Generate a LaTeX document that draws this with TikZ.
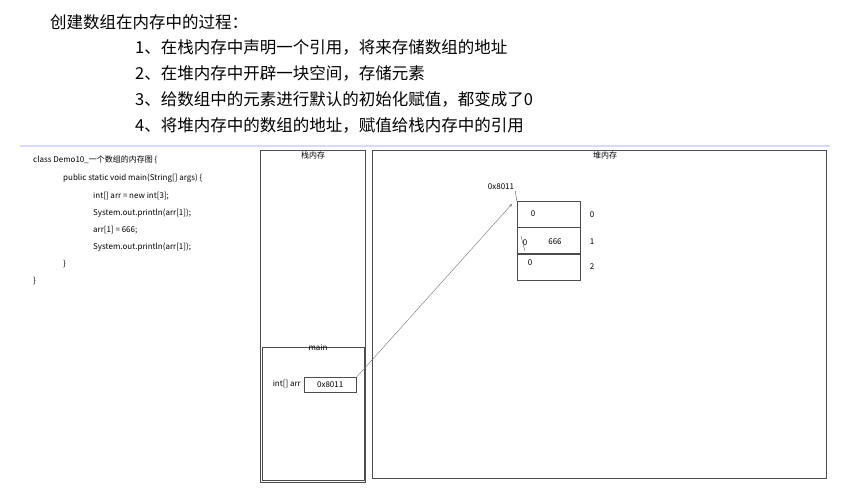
\documentclass[tikz,border=0pt]{standalone}
\usepackage{fontspec}
\setmainfont{Noto Sans CJK SC}
\usetikzlibrary{positioning}
\tikzset{
  mem/.style={draw=black!70, line width=0.6pt},
  cell/.style={draw=black!70, minimum width=63pt, minimum height=26pt, inner sep=0pt},
  tiny/.style={font=\fontsize{8}{9}\selectfont, inner sep=1pt},
  stepline/.style={font=\fontsize{16.5}{19}\selectfont, anchor=west, inner sep=0pt}
}
\begin{document}
\begin{tikzpicture}[x=1pt, y=-1pt]
\useasboundingbox (0,0) rectangle (863,503);
% title and steps
\node (title) [stepline] at (50,22) {创建数组在内存中的过程：};
\foreach \i/\t [count=\k] in {1/{在栈内存中声明一个引用，将来存储数组的地址},
                               2/{在堆内存中开辟一块空间，存储元素},
                               3/{给数组中的元素进行默认的初始化赋值，都变成了0},
                               4/{将堆内存中的数组的地址，赋值给栈内存中的引用}}
  \node (s\i) [stepline] at (135,21+26*\k) {\i、\t};
\draw[color=blue!15, line width=1.5pt] (20,146) -- (830,146);
% code
\node (c1) [tiny, anchor=west] at (32,160) {class Demo10\_一个数组的内存图 \{};
\node (c2) [tiny, anchor=west] at (62,178) {public static void main(String[] args) \{};
\node (c3) [tiny, anchor=west] at (92,196) {int[] arr = new int[3];};
\node (c4) [tiny, anchor=west] at (92,213) {System.out.println(arr[1]);};
\node (c5) [tiny, anchor=west] at (92,230) {arr[1] = 666;};
\node (c6) [tiny, anchor=west] at (92,247) {System.out.println(arr[1]);};
\node (c7) [tiny, anchor=west] at (62,264) {\}};
\node (c8) [tiny, anchor=west] at (32,281) {\}};
% stack
\draw[mem] (260,150) rectangle (365,482);
\node (stack) [tiny] at (313,155) {栈内存};
\draw[mem] (262,347) rectangle (364,480);
\node (main) [tiny] at (318,347) {main};
\node (arr) [tiny, anchor=east] at (302,384) {int[] arr};
\node (ref) [draw=black!70, tiny, minimum width=52pt, minimum height=15pt, anchor=west] at (304,385) {0x8011};
% heap
\draw[mem] (372,150) rectangle (826,478);
\node (heap) [tiny] at (605,155) {堆内存};
\node (a0) [cell] at (548.5,214) {};
\node (a1) [cell, below=0pt of a0] {};
\node (a2) [cell, below=0pt of a1] {};
\node [tiny] at (533,214) {0};
\node [tiny] at (525,243) {0};
\node [tiny] at (555,242) {666};
\node [tiny] at (530,263) {0};
\draw[black!70, thin] (521,236) -- (525,251);
\node (i0) [tiny] at (592,215) {0};
\node (i1) [tiny] at (592,242) {1};
\node (i2) [tiny] at (592,267) {2};
\node (addr) [tiny] at (501,187) {0x8011};
\draw[black!70, thin] (addr.south east) -- (a0.north west);
\draw[->, black!55, thin, >=stealth, shorten >=0pt] (ref.north east) -- (512,204);
\end{tikzpicture}
\end{document}
